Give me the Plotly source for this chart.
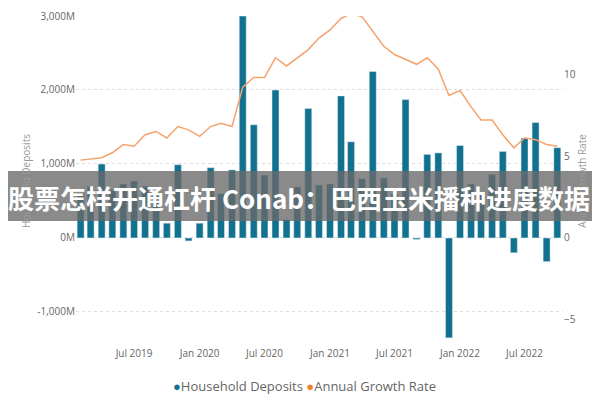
import plotly.graph_objects as go
import pandas as pd

months = pd.date_range("2019-02-01", periods=45, freq="MS").strftime("%Y-%m-%d").tolist()
deposits = [600, 700, 1000, 650, 730, 770, 700, 620, 200, 990,
            -40, 200, 950, 600, 920, 3000, 1530, 850, 2000, 250,
            690, 1750, 715, 730, 1920, 1300, 800, 2250, 810, 600,
            1870, -20, 1130, 1150, -1350, 1250, 730, 600, 860, 1170,
            -200, 1350, 1560, -320, 1220]
growth = [4.75, 4.8, 4.9, 5.2, 5.7, 5.6, 6.3, 6.5, 6.1, 6.8,
          6.6, 6.2, 6.8, 7.0, 6.8, 9.2, 9.8, 9.8, 11.0, 10.5,
          11.0, 11.5, 12.2, 12.7, 13.4, 13.7, 13.5, 12.6, 11.7, 11.2,
          10.9, 10.6, 11.0, 10.3, 8.7, 9.0, 8.0, 7.2, 7.2, 6.3,
          5.5, 6.1, 6.0, 5.7, 5.6]
tick_dates = ["2019-07-01", "2020-01-01", "2020-07-01", "2021-01-01", "2021-07-01", "2022-01-01", "2022-07-01"]
tick_text = ["Jul 2019", "Jan 2020", "Jul 2020", "Jan 2021", "Jul 2021", "Jan 2022", "Jul 2022"]
left_ticks = [-1000e6, 0, 1000e6, 2000e6, 3000e6]
left_text = ["-1,000M", "0M", "1,000M", "2,000M", "3,000M"]
series_names = ["Household Deposits", "Annual Growth Rate"]

BLUE = "#11718F"
ORANGE = "#F5A36E"
ORANGE_DOT = "#F07E26"

fig = go.Figure()
fig.add_trace(go.Bar(x=months, y=[d * 1e6 for d in deposits], name=series_names[0],
                     marker_color=BLUE, showlegend=False))
fig.add_trace(go.Scatter(x=months, y=growth, name=series_names[1], yaxis="y2",
                         mode="lines", line=dict(color=ORANGE, width=1.5), showlegend=False))

fig.update_layout(
    width=600, height=400, plot_bgcolor="white", paper_bgcolor="white",
    margin=dict(l=68, r=45, t=8, b=62, autoexpand=False),
    font=dict(family="Open Sans", size=10, color="#666"),
    bargap=0.3, showlegend=False,
    xaxis=dict(tickvals=tick_dates, ticktext=tick_text, range=["2019-01-19", "2022-10-17"],
               showgrid=False, ticks="", tickfont=dict(size=10, color="#666")),
    yaxis=dict(range=[-1460e6, 3000e6], tickvals=left_ticks, ticktext=left_text,
               showgrid=True, gridcolor="#ddd", griddash="dot", zeroline=False,
               title=dict(text=series_names[0], font=dict(size=10, color="#999"), standoff=4),
               tickfont=dict(size=10, color="#666")),
    yaxis2=dict(overlaying="y", side="right", range=[-6.6, 13.55], tickvals=[-5, 0, 5, 10],
                showgrid=False, zeroline=False,
                title=dict(text=series_names[1], font=dict(size=10, color="#999"), standoff=4),
                tickfont=dict(size=10, color="#666")),
)
fig.add_annotation(xref="paper", yref="paper", x=(296 - 68) / 487, y=(338 - 389) / 330,
                   text=f"<span style='color:{BLUE}'>●</span>{series_names[0]} "
                        f"<span style='color:{ORANGE_DOT}'>●</span>{series_names[1]}",
                   showarrow=False, font=dict(size=13, color="#666"))
fig.add_shape(type="rect", xref="paper", yref="paper", x0=-0.2, x1=1.2,
              y0=(400 - 62 - 213) / 330, y1=(400 - 62 - 163) / 330,
              fillcolor="rgba(105,105,105,0.78)", line_width=0, layer="above")
fig.add_annotation(xref="paper", yref="paper", x=(291 - 68) / 487, y=(400 - 62 - 189) / 330,
                   text="<b>股票怎样开通杠杆 Conab：巴西玉米播种进度数据</b>", showarrow=False,
                   font=dict(family="Noto Sans CJK SC", size=26, color="white"))
fig.write_html("out.html")
